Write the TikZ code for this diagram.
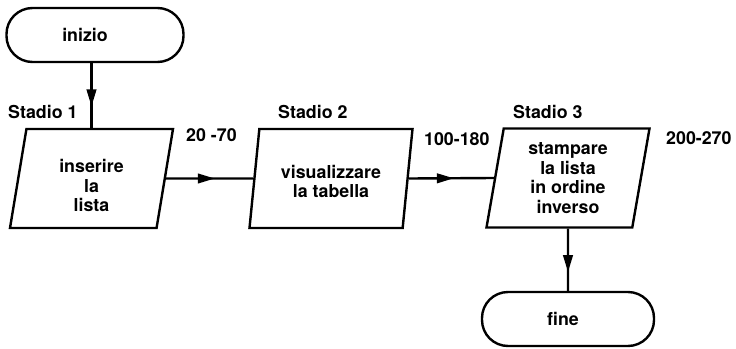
\documentclass[tikz,border=0pt]{standalone}
\usepackage{fontspec}
\setmainfont{TeX Gyre Heros}
\usetikzlibrary{shapes.geometric,arrows.meta,decorations.markings}

\begin{document}
\begin{tikzpicture}[x=1pt, y=-1pt, line width=2.4pt,
    font=\fontsize{17.8}{19.5}\selectfont\bfseries,
    terminal/.style={draw, rectangle, rounded corners=26pt, minimum width=172pt, minimum height=54pt},
    stage/.style={draw, trapezium, trapezium left angle=77, trapezium right angle=103,
                  trapezium stretches body, minimum width=163pt, minimum height=99pt,
                  align=center, inner sep=2pt},
    tag/.style={anchor=west, inner sep=0pt},
    midarrow/.style={postaction={decorate}, decoration={markings,
                  mark=at position #1 with {\arrow{Triangle[length=17pt,width=9.5pt]}}}}]
                      \useasboundingbox (0,0) rectangle (736,348);
                      \node[terminal, minimum width=177pt] (inizio) at (95,35) {\kern-20pt inizio};
                      \node[stage] (ins) at (91.5,178.5) {\rule{0pt}{28pt}inserire\\la\\lista};
                      \node[stage] (vis) at (331,178.5) {\rule{0pt}{19pt}visualizzare\\la tabella};
                      \node[stage] (sta) at (568,178) {stampare\\la lista\\in ordine\\inverso};
                      \node[terminal] (fine) at (568,319) {\kern-10pt fine};

                      \node[tag] (st1) at (7,112) {Stadio 1};
                      \node[tag] (st2) at (277,112) {Stadio 2};
                      \node[tag] (st3) at (512,112) {Stadio 3};
                      \node[tag] (r1) at (185,135) {20 -70};
                      \node[tag] (r2) at (423,139) {100-180};
                      \node[tag] (r3) at (665,138) {200-270};

                      \draw[midarrow=0.67] (inizio.south -| ins.north) -- (ins.north);
                      \draw[midarrow=0.56] (ins.east) -- (vis.west);
                      \draw[midarrow=0.53] (vis.east) -- (sta.west);
                      \draw[midarrow=0.7] (sta.south) -- (fine.north);
                  \end{tikzpicture}
\end{document}
